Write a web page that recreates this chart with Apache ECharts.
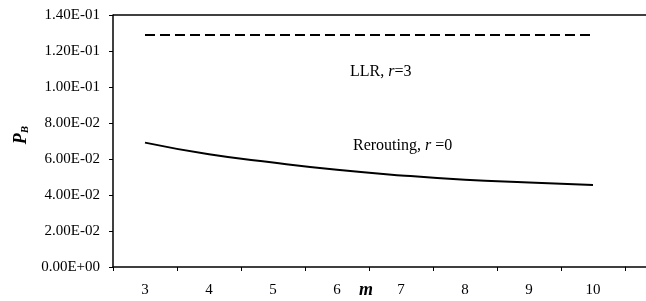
<!DOCTYPE html>
<html><head><meta charset="utf-8">
<script src="https://cdn.jsdelivr.net/npm/echarts@6/dist/echarts.min.js"></script>
<style>html,body{margin:0;padding:0;background:#fff}#c{width:646px;height:301px}</style>
</head><body><div id="c"></div>
<script>
const categories = ['3','4','5','6','7','8','9','10'];
const llr = [0.1289,0.1289,0.1289,0.1289,0.1289,0.1289,0.1289,0.1289];
const rerouting = [0.0691,0.0626,0.0580,0.0540,0.0509,0.0485,0.0470,0.0456];
const yTicks = [0,0.02,0.04,0.06,0.08,0.10,0.12,0.14];

const font = 'Liberation Serif';
const chart = echarts.init(document.getElementById('c'));
chart.setOption({
  animation:false,
  grid:{left:113, top:15, width:512, height:252, containLabel:false, outerBoundsMode:'none'},
  xAxis:{type:'category', data:categories, boundaryGap:true,
    axisLine:{lineStyle:{color:'#000', width:1.5}},
    axisTick:{show:true, length:4, lineStyle:{color:'#000'}},
    axisLabel:{fontFamily:font, fontSize:15, color:'#000', margin:16}
  },
  yAxis:{type:'value', min:0, max:0.14, interval:0.02,
    axisLine:{show:true, lineStyle:{color:'#000', width:1.5}},
    axisTick:{show:true, length:4, lineStyle:{color:'#000'}},
    splitLine:{show:false},
    axisLabel:{fontFamily:font, fontSize:15, color:'#000', margin:13,
      formatter:v=>{ const t=yTicks.find(x=>Math.abs(x-v)<1e-9); const val=(t===undefined?v:t);
        return val===0?'0.00E+00':val.toExponential(2).replace('e-','E-0').toUpperCase(); }}
  },
  series:[
    {type:'line', data:llr, symbol:'none', smooth:false,
      lineStyle:{color:'#000', width:2, type:[10,5]}},
    {type:'line', data:rerouting, symbol:'none', smooth:true,
      lineStyle:{color:'#000', width:2}}
  ],
  graphic:[
    {type:'line', shape:{x1:113,y1:15,x2:646,y2:15}, style:{stroke:'#000', lineWidth:1.5}},
    {type:'line', shape:{x1:625,y1:267,x2:646,y2:267}, style:{stroke:'#000', lineWidth:1.5}},
    {type:'text', left:350, top:64, style:{text:'{n|LLR, }{i|r}{n|=3}',
      rich:{n:{fontFamily:font,fontSize:16,fill:'#000'}, i:{fontFamily:font,fontSize:16,fontStyle:'italic',fill:'#000'}}}},
    {type:'text', left:353, top:138, style:{text:'{n|Rerouting, }{i|r}{n| =0}',
      rich:{n:{fontFamily:font,fontSize:16,fill:'#000'}, i:{fontFamily:font,fontSize:16,fontStyle:'italic',fill:'#000'}}}},
    {type:'text', left:359, top:281, style:{text:'m', fontFamily:font, fontSize:18, fontStyle:'italic', fontWeight:'bold', fill:'#000'}},
    {type:'text', left:12, top:126, rotation:Math.PI/2, style:{text:'{p|P}{s|B}',
      rich:{p:{fontFamily:font,fontSize:18,fontStyle:'italic',fontWeight:'bold',fill:'#000'},
            s:{fontFamily:font,fontSize:11,fontStyle:'italic',fontWeight:'bold',fill:'#000',padding:[8,0,0,0]}}}}
  ]
});
</script></body></html>
